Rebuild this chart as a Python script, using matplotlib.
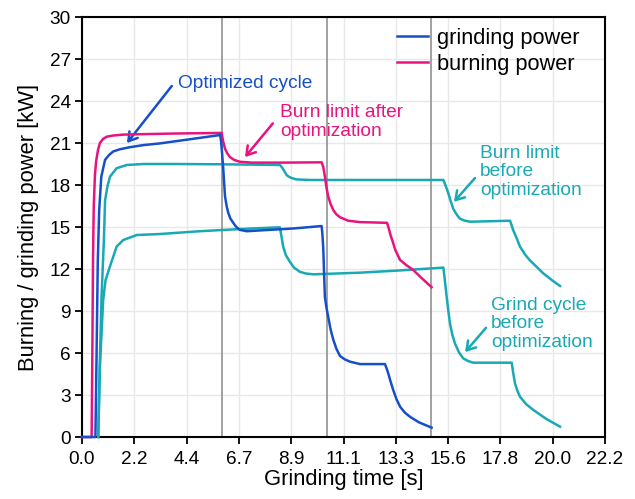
"""
Burning vs grinding power over one grind cycle, before/after optimization
"""
import matplotlib
matplotlib.use("Agg")
import matplotlib.pyplot as plt

plt.rcParams['font.family'] = ['Liberation Sans', 'DejaVu Sans']

BLUE = '#1550c8'
PINK = '#e8137f'
TEAL = '#18a9b5'

# grinding power, optimized cycle
grind_x = [0.0, 0.57, 0.62, 0.67, 0.73, 0.82, 0.98, 1.15, 1.33, 1.6, 2.03, 2.6, 3.3, 4.5, 5.86,
           5.9, 5.95, 6.0, 6.07, 6.14, 6.21, 6.3, 6.42, 6.55, 6.7, 6.99, 8.0, 9.0, 10.17,
           10.2, 10.24, 10.27, 10.31, 10.38, 10.45, 10.55, 10.67, 10.8, 10.95, 11.15, 11.38, 11.8, 12.86,
           12.93, 13.0, 13.1, 13.21, 13.35, 13.5, 13.7, 13.92, 14.3, 14.84]
grind_y = [0.0, 0.0, 6.0, 12.5, 16.2, 18.6, 19.8, 20.15, 20.4, 20.55, 20.7, 20.85, 20.97, 21.25, 21.57,
           21.2, 20.2, 19.07, 17.2, 16.5, 16.0, 15.6, 15.3, 15.0, 14.8, 14.7, 14.8, 14.9, 15.07,
           14.6, 13.5, 12.0, 10.0, 9.2, 8.6, 7.7, 6.93, 6.3, 5.79, 5.55, 5.38, 5.21, 5.21,
           4.9, 4.55, 3.95, 3.36, 2.7, 2.17, 1.75, 1.45, 1.05, 0.67]

# burning power, optimized cycle
burn_x = [0.0, 0.41, 0.44, 0.47, 0.5, 0.55, 0.6, 0.68, 0.76, 0.9, 1.05, 1.3, 1.74, 2.5, 4.0, 5.93,
          5.98, 6.07, 6.17, 6.28, 6.45, 6.7, 7.2, 8.5, 10.17,
          10.24, 10.31, 10.38, 10.45, 10.55, 10.67, 10.8, 10.95, 11.3, 11.8, 12.95,
          13.02, 13.1, 13.2, 13.29, 13.4, 13.5, 13.75, 14.06, 14.45, 14.84]
burn_y = [0.0, 0.0, 6.0, 13.0, 16.5, 18.7, 19.7, 20.5, 21.0, 21.3, 21.45, 21.53, 21.6, 21.63, 21.68, 21.72,
          21.2, 20.6, 20.25, 20.0, 19.8, 19.66, 19.6, 19.6, 19.62,
          19.3, 18.6, 17.8, 17.2, 16.65, 16.2, 15.9, 15.7, 15.45, 15.35, 15.3,
          14.9, 14.4, 13.9, 13.4, 13.0, 12.65, 12.3, 11.93, 11.3, 10.7]

# burn limit before optimization
limit_x = [0.69, 0.76, 0.83, 0.93, 0.98, 1.08, 1.19, 1.47, 1.9, 2.6, 4.0, 6.0, 8.4,
           8.47, 8.55, 8.62, 8.69, 8.8, 8.9, 9.1, 9.7, 11.0, 13.0, 15.34,
           15.4, 15.48, 15.55, 15.65, 15.76, 15.9, 16.04, 16.25, 16.47, 17.0, 18.17,
           18.23, 18.3, 18.45, 18.59, 18.8, 19.0, 19.3, 19.58, 19.95, 20.29]
limit_y = [0.0, 5.5, 10.0, 14.07, 16.9, 17.9, 18.6, 19.2, 19.43, 19.5, 19.5, 19.48, 19.43,
           19.3, 19.1, 18.9, 18.7, 18.58, 18.5, 18.4, 18.36, 18.36, 18.36, 18.36,
           18.1, 17.75, 17.4, 16.85, 16.3, 15.9, 15.6, 15.45, 15.38, 15.4, 15.45,
           15.15, 14.79, 14.2, 13.6, 13.05, 12.64, 12.15, 11.69, 11.2, 10.79]

# grind cycle before optimization
before_x = [0.69, 0.76, 0.83, 0.9, 1.0, 1.19, 1.47, 1.75, 2.32, 3.31, 5.0, 7.0, 8.4,
            8.45, 8.54, 8.65, 8.83, 9.0, 9.25, 9.5, 9.82, 11.8, 13.5, 15.34,
            15.4, 15.48, 15.55, 15.62, 15.72, 15.83, 16.0, 16.18, 16.4, 16.61, 17.5, 18.24,
            18.3, 18.38, 18.48, 18.59, 18.85, 19.16, 19.7, 20.29]
before_y = [0.0, 5.0, 7.4, 9.8, 11.2, 12.2, 13.6, 14.07, 14.43, 14.5, 14.7, 14.88, 14.98,
            14.5, 13.6, 13.0, 12.5, 12.1, 11.8, 11.68, 11.62, 11.74, 11.9, 12.1,
            11.2, 10.0, 9.0, 8.1, 7.3, 6.69, 6.05, 5.62, 5.42, 5.31, 5.31, 5.31,
            4.6, 3.83, 3.3, 2.88, 2.35, 1.93, 1.3, 0.74]

# cycle ends (grey markers)
cycle_ends = [5.94, 10.4, 14.81]

xticks = [0.0, 2.22, 4.44, 6.66, 8.88, 11.1, 13.32, 15.54, 17.76, 19.98, 22.2]
xtick_labels = ['0.0', '2.2', '4.4', '6.7', '8.9', '11.1', '13.3', '15.6', '17.8', '20.0', '22.2']
yticks = [0, 3, 6, 9, 12, 15, 18, 21, 24, 27, 30]

fig = plt.figure(figsize=(6.35, 4.99), dpi=100)
ax = fig.add_axes([0.1291, 0.1242, 0.8237, 0.8417])

for xe in cycle_ends:
    ax.axvline(xe, color='#9a9a9a', linewidth=1.3, zorder=1)

lw = 1.8
ax.plot(limit_x, limit_y, color=TEAL, linewidth=lw, zorder=3, clip_on=False)
ax.plot(before_x, before_y, color=TEAL, linewidth=lw, zorder=3, clip_on=False)
ax.plot(burn_x, burn_y, color=PINK, linewidth=lw, zorder=4, clip_on=False, label='burning power')
ax.plot(grind_x, grind_y, color=BLUE, linewidth=lw, zorder=5, clip_on=False, label='grinding power')

# annotations
fs_note = 13.8
arrow = dict(arrowstyle='->,head_length=0.6,head_width=0.38', linewidth=1.8,
             shrinkA=0, shrinkB=0)
ax.annotate('', xy=(1.91, 21.0), xytext=(3.81, 25.07),
            arrowprops=dict(arrow, color=BLUE))
ax.text(4.07, 25.86, 'Optimized cycle', color=BLUE, fontsize=fs_note, va='top')

ax.annotate('', xy=(6.92, 20.0), xytext=(8.1, 22.4),
            arrowprops=dict(arrow, color=PINK))
ax.text(8.4, 23.8, 'Burn limit after\noptimization', color=PINK, fontsize=fs_note,
        va='top', linespacing=1.15)

ax.annotate('', xy=(15.79, 16.8), xytext=(16.68, 18.5),
            arrowprops=dict(arrow, color=TEAL))
ax.text(16.89, 20.86, 'Burn limit\nbefore\noptimization', color=TEAL, fontsize=fs_note,
        va='top', linespacing=1.1)

ax.annotate('', xy=(16.26, 6.07), xytext=(17.15, 7.8),
            arrowprops=dict(arrow, color=TEAL))
ax.text(17.35, 10.0, 'Grind cycle\nbefore\noptimization', color=TEAL, fontsize=fs_note,
        va='top', linespacing=1.1)

# axes formatting
ax.set_xlim(0, 22.2)
ax.set_ylim(0, 30)
ax.set_xticks(xticks)
ax.set_xticklabels(xtick_labels)
ax.set_yticks(yticks)
ax.tick_params(labelsize=13.7, length=5, width=1.3, direction='out', colors='black')
ax.tick_params(axis='x', pad=5)
ax.tick_params(axis='y', pad=3)
ax.grid(True, color='#e8e8e8', linewidth=1.0, zorder=0)
ax.set_axisbelow(True)
for sp in ax.spines.values():
    sp.set_linewidth(1.5)
ax.set_xlabel('Grinding time [s]', fontsize=15.8, labelpad=1)
ax.set_ylabel('Burning / grinding power [kW]', fontsize=15.8, labelpad=8)

handles, labels = ax.get_legend_handles_labels()
ax.legend(handles[::-1], labels[::-1], loc='upper left', frameon=False, fontsize=15.7,
          handlelength=1.42, handletextpad=0.41, labelspacing=0.25,
          borderpad=0, borderaxespad=0, bbox_to_anchor=(0.602, 0.975))

fig.savefig('out.png', dpi=100)
